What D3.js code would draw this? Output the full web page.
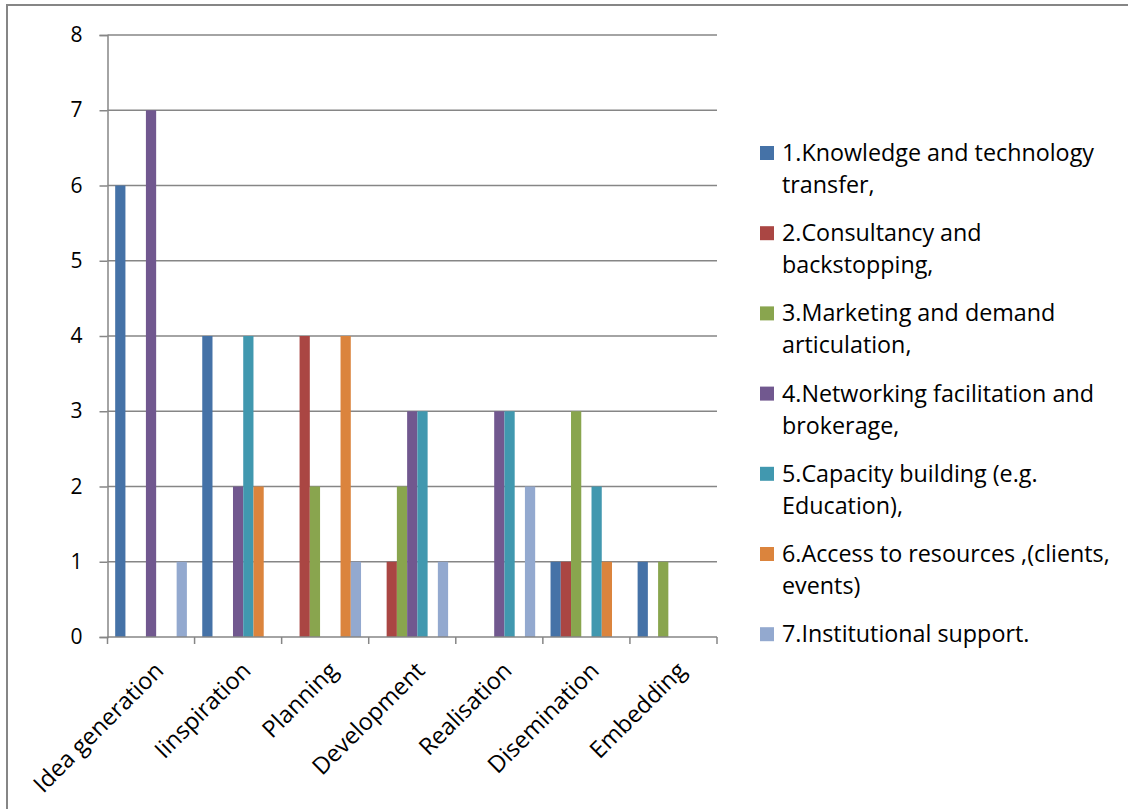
<!doctype html>
<html lang="en">
  <head>
    <script src="https://cdn.jsdelivr.net/npm/d3@7"></script>
    <style>
body { margin: 0; background: #fff; }
svg text { font-family: "Open Sans", Lato, sans-serif; fill: #000; }
.axis path, .axis line { stroke: #868686; stroke-width: 1.5; }
.grid line { stroke: #868686; stroke-width: 1.5; }
    </style>
  </head>
  <body>
    <svg id="chart" width="1128" height="809"></svg>
    <script type="text/javascript">
//=============================== DATA ===================================
var categories = ['Idea generation', 'Iinspiration', 'Planning', 'Development', 'Realisation', 'Disemination', 'Embedding']
var seriesNames = [
	['1.Knowledge and technology', 'transfer,'],
	['2.Consultancy and', 'backstopping,'],
	['3.Marketing and demand', 'articulation,'],
	['4.Networking facilitation and', 'brokerage,'],
	['5.Capacity building (e.g.', 'Education),'],
	['6.Access to resources ,(clients,', 'events)'],
	['7.Institutional support.']
]
var colors = ['#4572A7', '#AA4643', '#89A54E', '#71588F', '#4198AF', '#DB843D', '#93A9CF']
// one row per series, one value per category
var s1 = [6, 4, 0, 0, 0, 1, 1]
var s2 = [0, 0, 4, 1, 0, 1, 0]
var s3 = [0, 0, 2, 2, 0, 3, 1]
var s4 = [7, 2, 0, 3, 3, 0, 0]
var s5 = [0, 4, 0, 3, 3, 2, 0]
var s6 = [0, 2, 4, 0, 0, 1, 0]
var s7 = [1, 0, 1, 1, 2, 0, 0]
var series = [s1, s2, s3, s4, s5, s6, s7]
var yTicks = [0, 1, 2, 3, 4, 5, 6, 7, 8]

//=============================== DRAW ===================================
var svg = d3.select('#chart')
svg.append('rect')
	.attr('x', 7).attr('y', 5).attr('width', 1140).attr('height', 820)
	.attr('fill', 'none').attr('stroke', '#868686').attr('stroke-width', 2)

var pLeft = 107.5, pRight = 717, pTop = 35, pBottom = 637

var x = d3.scaleBand().domain(categories).range([pLeft, pRight])
var xs = d3.scaleBand().domain(d3.range(series.length))
	.range([0, x.bandwidth()]).paddingOuter(0.75).paddingInner(0)
var y = d3.scaleLinear().domain([0, 8]).range([pBottom, pTop])

// gridlines
svg.append('g').attr('class', 'grid')
	.selectAll('line').data(yTicks.filter(d => d > 0)).enter()
	.append('line')
	.attr('x1', pLeft).attr('x2', pRight)
	.attr('y1', d => y(d)).attr('y2', d => y(d))

// bars
var flat = []
series.forEach((vals, si) => {
	vals.forEach((v, ci) => { if (v > 0) flat.push({ s: si, c: categories[ci], v: v }) })
})
svg.append('g').selectAll('rect')
	.data(flat).enter()
	.append('rect')
	.attr('x', d => x(d.c) + xs(d.s))
	.attr('width', xs.bandwidth())
	.attr('y', d => y(d.v))
	.attr('height', d => y(0) - y(d.v))
	.attr('fill', d => colors[d.s])

// y axis
var yAxis = svg.append('g').attr('class', 'axis')
	.attr('transform', 'translate(' + pLeft + ',0)')
	.call(d3.axisLeft(y).tickValues(yTicks).tickSize(8).tickPadding(17))
yAxis.selectAll('text').style('font-size', '21px').style('font-family', '"Open Sans", sans-serif')

// x axis
svg.append('g').attr('class', 'axis')
	.append('path').attr('d', 'M' + pLeft + ',' + pBottom + 'H' + pRight)
svg.append('g').attr('class', 'axis')
	.selectAll('line').data(d3.range(categories.length + 1)).enter()
	.append('line')
	.attr('x1', i => pLeft + i * x.step()).attr('x2', i => pLeft + i * x.step())
	.attr('y1', pBottom).attr('y2', pBottom + 7)

svg.append('g').selectAll('text')
	.data(categories).enter()
	.append('text')
	.attr('text-anchor', 'end')
	.style('font-size', '23.5px')
	.attr('transform', d => 'translate(' + (x(d) + x.bandwidth() / 2 + 14) + ',' + (pBottom + 35) + ') rotate(-45)')
	.text(d => d)

// legend
var legend = svg.append('g').attr('transform', 'translate(760,0)')
seriesNames.forEach((lines, i) => {
	var cy = 153 + i * 80.2
	legend.append('rect').attr('x', 0).attr('y', cy - 7).attr('width', 14).attr('height', 14).attr('fill', colors[i])
	lines.forEach((t, j) => {
		legend.append('text').attr('x', 22).attr('y', cy + j * 32 + 8)
			.style('font-size', '23.3px').text(t)
	})
})
    </script>
  </body>
</html>
